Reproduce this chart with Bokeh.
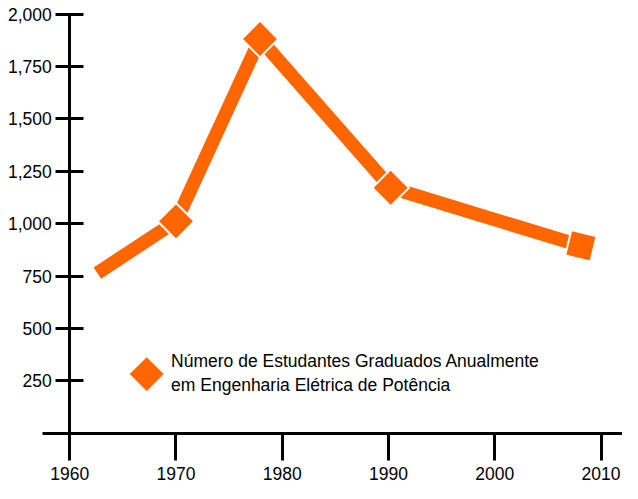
from bokeh.plotting import figure
from bokeh.models import (LinearAxis, FixedTicker, NumeralTickFormatter, Range1d,
                          Label, ColumnDataSource)
from bokeh.embed import file_html
from bokeh.resources import INLINE
import math

# ---- data ----
years = [1962.6, 1970, 1977.9, 1990.2, 2008.1]
graduates = [764, 1011, 1881, 1171, 894]
x_ticks = [1960, 1970, 1980, 1990, 2000, 2010]
y_ticks = [250, 500, 750, 1000, 1250, 1500, 1750, 2000]
series_label = "Número de Estudantes Graduados Anualmente\nem Engenharia Elétrica de Potência"

# ---- style / layout ----
ORANGE = "#FF6600"
FONT = "Liberation Sans"
FONT_SIZE = "17.5px"
W, H = 622, 483
marker_angles_deg = [45, 45, 45, -13.5]
LEGEND_KEY_X, LEGEND_KEY_Y = 146.2, 373.6     # pixel position (from top-left)
LEGEND_TEXT_X, LEGEND_TEXT_Y = 170.6, 372.7

p = figure(width=W, height=H, output_backend="svg", toolbar_location=None,
           x_range=Range1d(1953.486, 2012.016), y_range=Range1d(-240.2, 2064.7),
           x_axis_type=None, y_axis_type=None, min_border=0)
p.outline_line_color = None
p.background_fill_color = "white"
p.extra_x_ranges = {"px": Range1d(0, W)}
p.extra_y_ranges = {"px": Range1d(H, 0)}

def style_axis(ax):
    ax.axis_line_width = 3
    ax.axis_line_color = "black"
    ax.major_tick_line_width = 3
    ax.major_tick_line_color = "black"
    ax.minor_tick_line_color = None
    ax.major_label_text_font = FONT
    ax.major_label_text_font_size = FONT_SIZE
    ax.major_label_text_color = "black"

xaxis = LinearAxis(fixed_location=0, bounds=(1957.43, 2012.016),
                   ticker=FixedTicker(ticks=x_ticks))
style_axis(xaxis)
xaxis.major_tick_out = 27
xaxis.major_tick_in = 0
xaxis.major_label_standoff = 7
p.add_layout(xaxis, "below")

yaxis = LinearAxis(fixed_location=1960, bounds=(0, 2000),
                   ticker=FixedTicker(ticks=y_ticks),
                   formatter=NumeralTickFormatter(format="0,0"))
style_axis(yaxis)
yaxis.major_tick_out = 14
yaxis.major_tick_in = 14
yaxis.major_label_standoff = 4
p.add_layout(yaxis, "left")

src = ColumnDataSource(dict(x=years, y=graduates))
p.line("x", "y", source=src, line_width=13.5, line_color=ORANGE)

msrc = ColumnDataSource(dict(x=years[1:], y=graduates[1:],
                             a=[math.radians(d) for d in marker_angles_deg]))
p.scatter("x", "y", source=msrc, marker="square", size=26, angle="a",
          fill_color=ORANGE, line_color="white", line_width=2)

# legend key and label
p.scatter(x=[LEGEND_KEY_X], y=[LEGEND_KEY_Y], x_range_name="px", y_range_name="px",
          marker="square", size=24, angle=math.pi / 4,
          fill_color=ORANGE, line_color=None)
p.add_layout(Label(x=LEGEND_TEXT_X, y=LEGEND_TEXT_Y, x_range_name="px", y_range_name="px",
                   text=series_label, text_font=FONT, text_font_size=FONT_SIZE,
                   text_color="black", text_align="left", text_baseline="middle",
                   text_line_height=1.2))

with open("out.html", "w", encoding="utf-8") as f:
    f.write(file_html(p, INLINE))
